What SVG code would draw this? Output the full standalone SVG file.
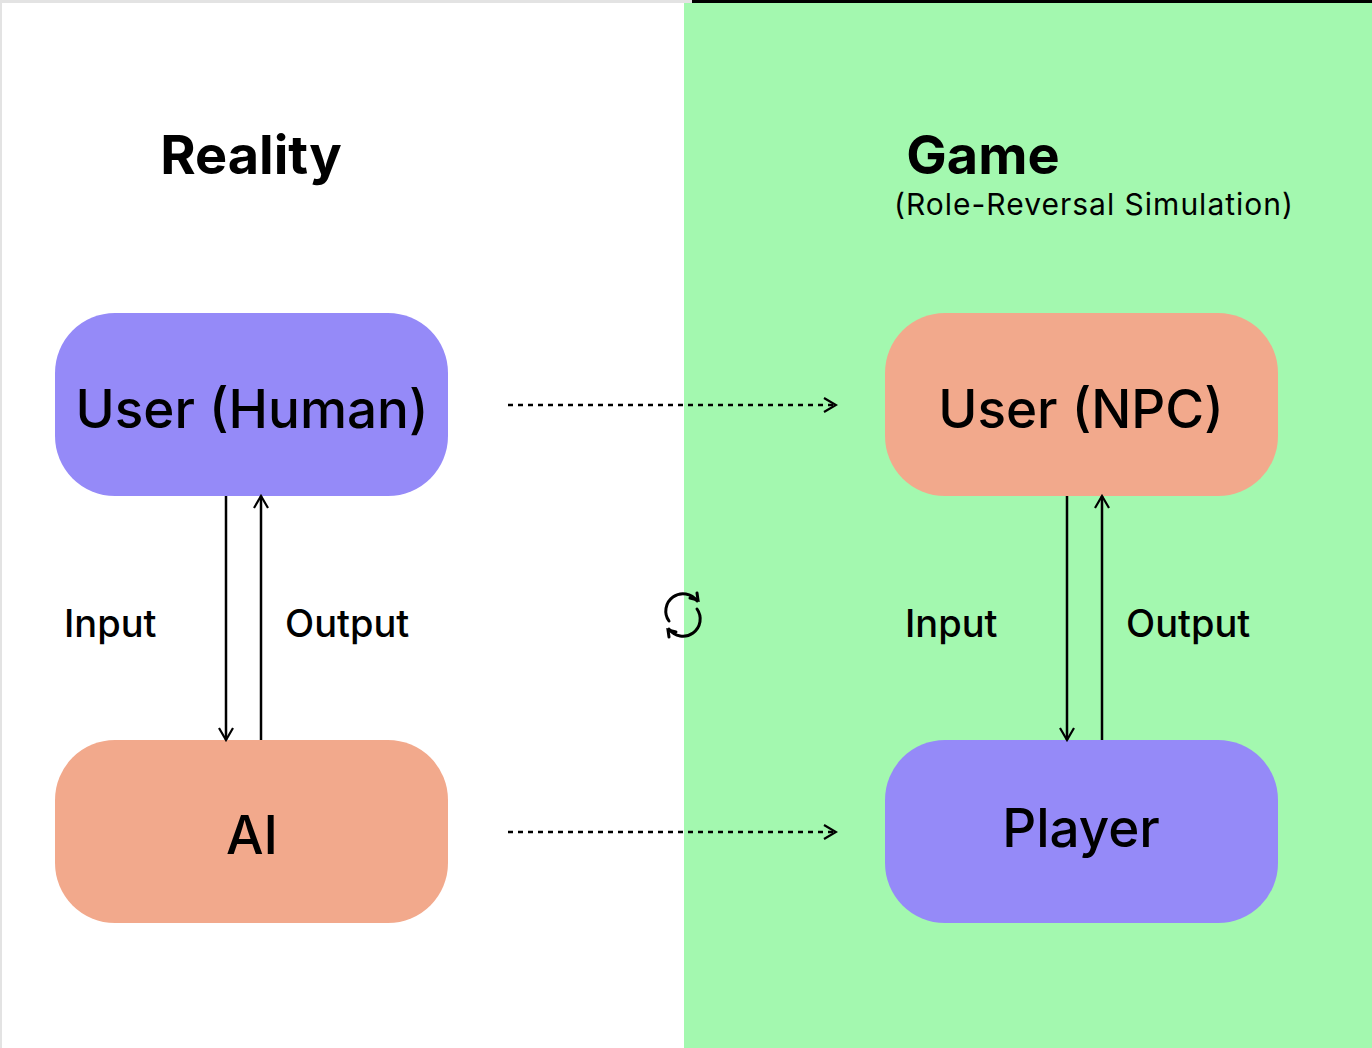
<svg xmlns="http://www.w3.org/2000/svg" width="1372" height="1048" viewBox="0 0 1372 1048">
<style>
.t{font-family:Inter,"Liberation Sans",sans-serif;fill:#000}
.node{font-size:53px;font-weight:500}
.lbl{font-size:38px;font-weight:500}
.ln{stroke:#000;stroke-width:2.5;fill:none}
.dash{stroke:#000;stroke-width:2.5;stroke-dasharray:5 5;fill:none}
</style>
<defs>
<marker id="ah" viewBox="0 0 16 16" refX="14" refY="8" markerWidth="16" markerHeight="16" markerUnits="userSpaceOnUse" orient="auto">
<path d="M2 1 L14 8 L2 15" fill="none" stroke="#000" stroke-width="2.2"/>
</marker>
</defs>
<rect width="1372" height="1048" fill="#fff"/>
<rect x="684" y="0" width="688" height="1048" fill="#a3f8af"/>
<rect x="0" y="0" width="692" height="3" fill="#e3e3e3"/>
<rect x="692" y="0" width="680" height="3" fill="#000"/>
<rect x="0" y="0" width="2" height="1048" fill="#e3e3e3"/>
<text class="t" x="251" y="174" font-size="54" font-weight="bold" text-anchor="middle">Reality</text>
<text class="t" x="983" y="174" font-size="54" font-weight="bold" text-anchor="middle">Game</text>
<text class="t" x="1094" y="215" font-size="30" letter-spacing="1" text-anchor="middle">(Role-Reversal Simulation)</text>
<g id="userHuman"><rect x="55" y="313" width="393" height="183" rx="60" fill="#958af8"/><text class="t node" x="252" y="428" text-anchor="middle">User (Human)</text></g>
<g id="ai"><rect x="55" y="740" width="393" height="183" rx="60" fill="#f2a98c"/><text class="t node" x="252" y="854" text-anchor="middle">AI</text></g>
<g id="userNPC"><rect x="885" y="313" width="393" height="183" rx="60" fill="#f2a98c"/><text class="t node" x="1081" y="428" text-anchor="middle">User (NPC)</text></g>
<g id="player"><rect x="885" y="740" width="393" height="183" rx="60" fill="#958af8"/><text class="t node" x="1081" y="847" text-anchor="middle">Player</text></g>
<g id="connectors">
<line class="ln" x1="226" y1="496" x2="226" y2="740" marker-end="url(#ah)"/>
<line class="ln" x1="261" y1="740" x2="261" y2="496" marker-end="url(#ah)"/>
<line class="ln" x1="1067" y1="496" x2="1067" y2="740" marker-end="url(#ah)"/>
<line class="ln" x1="1102" y1="740" x2="1102" y2="496" marker-end="url(#ah)"/>
<line class="dash" x1="508" y1="405" x2="836" y2="405" marker-end="url(#ah)"/>
<line class="dash" x1="508" y1="832" x2="836" y2="832" marker-end="url(#ah)"/>
</g>
<text class="t lbl" x="64" y="637">Input</text>
<text class="t lbl" x="285" y="637">Output</text>
<text class="t lbl" x="905" y="637">Input</text>
<text class="t lbl" x="1126" y="637">Output</text>
<g id="cycle" fill="none" stroke="#000" stroke-width="3" stroke-linecap="round">
<path d="M697 601 A17 17 0 0 0 669 621"/>
<path d="M669 629 A17 17 0 0 0 697 609"/>
<path d="M690 598 L698 600 L697 593"/>
<path d="M676 632 L668 630 L669 637"/>
</g>
</svg>
